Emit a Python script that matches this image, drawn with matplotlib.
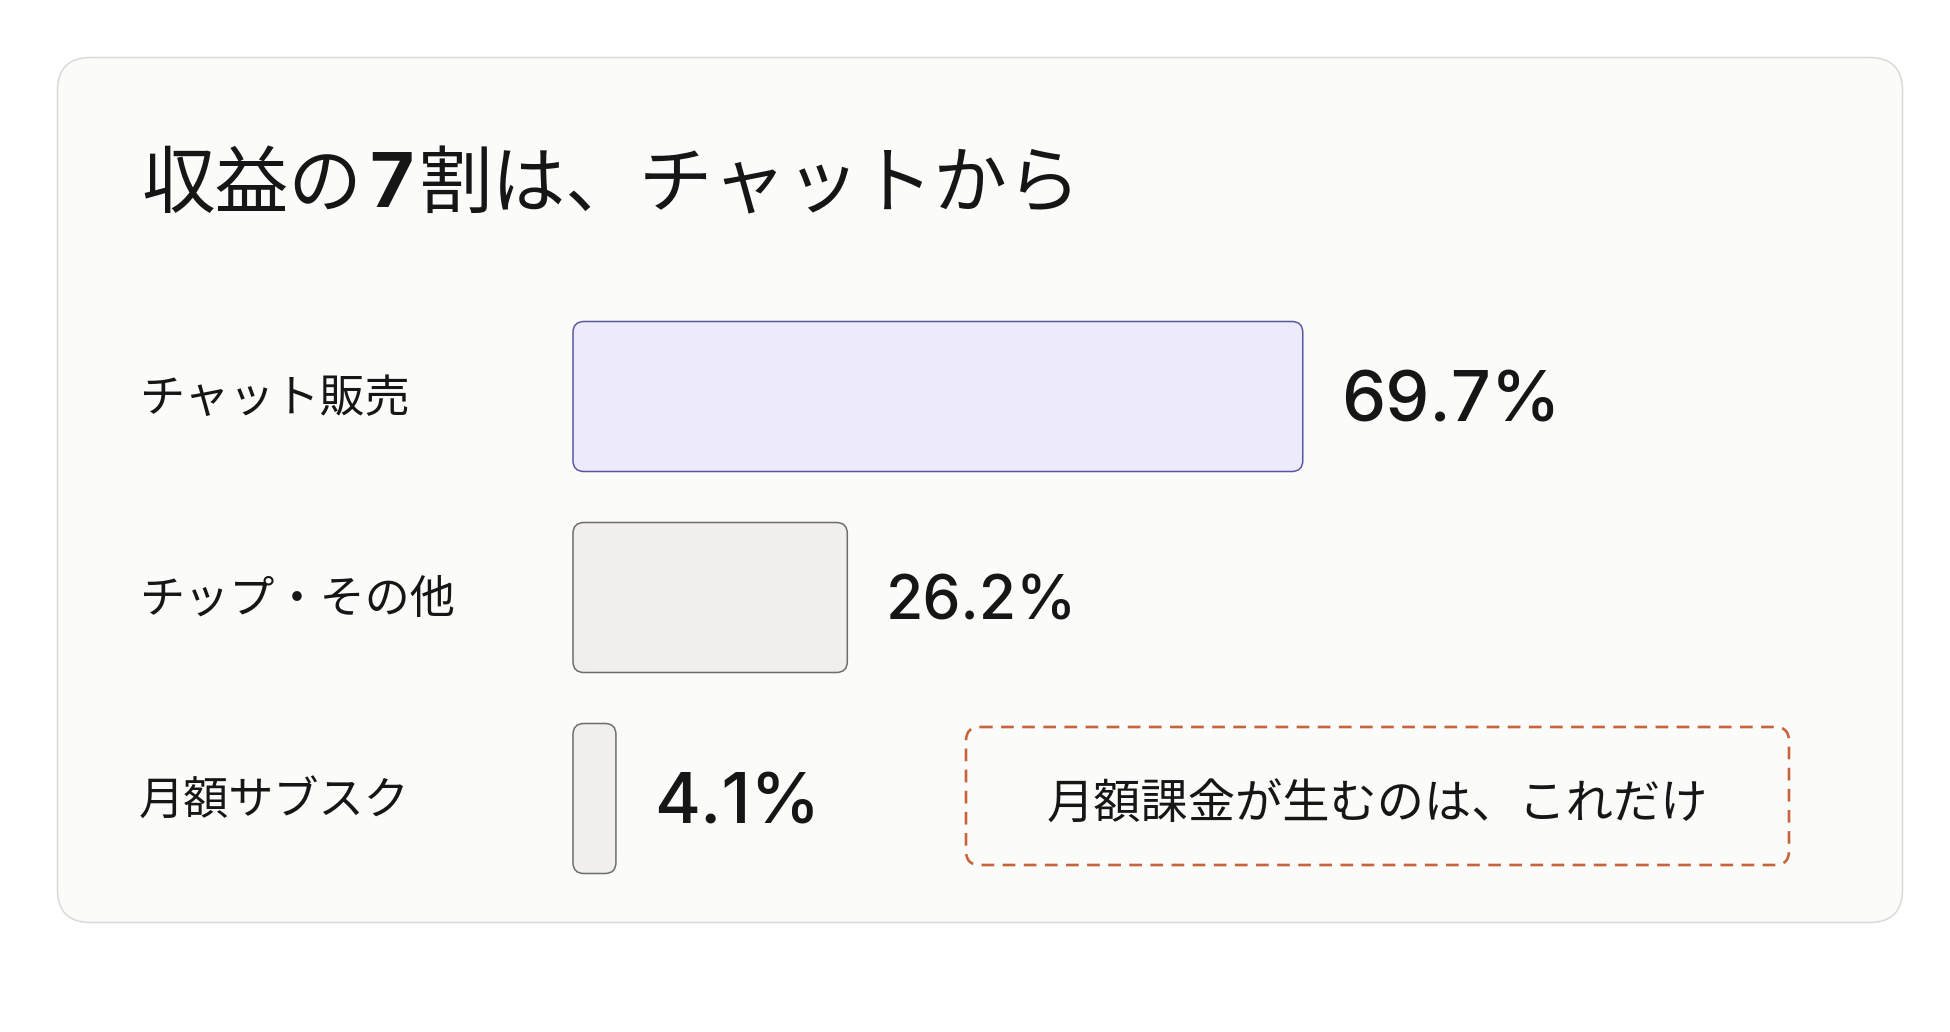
import matplotlib
matplotlib.use("Agg")
import matplotlib.pyplot as plt
from matplotlib.patches import FancyBboxPatch
from matplotlib.transforms import blended_transform_factory, offset_copy

# ---------------- data ----------------
categories = ["チャット販売", "チップ・その他", "月額サブスク"]
shares = [69.7, 26.2, 4.1]
value_labels = ["69.7%", "26.2%", "4.1%"]
title_parts = ["収益の", "7", "割は、チャットから"]
note_text = "月額課金が生むのは、これだけ"

# ---------------- style ----------------
JP = ["Noto Sans CJK JP", "DejaVu Sans"]
NUM = ["Inter", "Noto Sans CJK JP", "DejaVu Sans"]
plt.rcParams["font.family"] = JP
INK = "#161616"
bar_fills = ["#edebfb", "#f1efeb", "#f1efeb"]
bar_edges = ["#5b56a3", "#6f6d6a", "#6f6d6a"]
value_sizes = [50.5, 43.5, 50.5]

W, H, DPI = 1950, 1032, 100
fig = plt.figure(figsize=(W / DPI, H / DPI), dpi=DPI)
fig.patch.set_facecolor("white")

# background axes in pixel units (y downwards)
bg = fig.add_axes([0, 0, 1, 1])
bg.set_xlim(0, W)
bg.set_ylim(H, 0)
bg.axis("off")

card = FancyBboxPatch((57.5, 57.5), 1845, 865,
                      boxstyle="round,pad=0,rounding_size=33",
                      facecolor="#fbfbf9", edgecolor="#d9d9d6", linewidth=1.1)
bg.add_patch(card)

# title with bold "7"
renderer = fig.canvas.get_renderer()
x = 141
gaps = [7, 6, 0]
for part, gap in zip(title_parts, gaps):
    bold = part.isdigit()
    t = bg.text(x, 207, part, fontsize=53 if not bold else 55,
                fontweight="bold" if bold else "normal",
                family=NUM if bold else JP, color=INK,
                ha="left", va="baseline")
    ext = t.get_window_extent(renderer)
    x += ext.width + gap

# bar axes: 1% = 10.47 px, row pitch 201 px
left_px, width_px = 573, 1047
top_px, height_px = 296, 603
ax = fig.add_axes([left_px / W, 1 - (top_px + height_px) / H,
                   width_px / W, height_px / H])
ax.set_xlim(0, 100)
ax.set_ylim(len(categories) - 0.5, -0.5)
ax.axis("off")

px_x = width_px / 100.0
px_y = height_px / len(categories)
bar_h = 150 / px_y
r_px = 11
for i, (v, fc, ec) in enumerate(zip(shares, bar_fills, bar_edges)):
    p = FancyBboxPatch((0, i - bar_h / 2), v, bar_h,
                       boxstyle=f"round,pad=0,rounding_size={r_px / px_x}",
                       mutation_aspect=px_x / px_y,
                       facecolor=fc, edgecolor=ec, linewidth=1.1,
                       clip_on=False)
    ax.add_patch(p)

# value labels
for i, (v, lab, fs) in enumerate(zip(shares, value_labels, value_sizes)):
    em_px = fs * DPI / 72
    base_off_pt = -(0.727 * em_px / 2) * 72 / DPI
    tr = offset_copy(ax.transData, fig=fig, x=27.5, y=base_off_pt, units="points")
    ax.text(v, i, lab, transform=tr, fontsize=fs, family=NUM,
            fontweight="medium", color=INK, ha="left", va="baseline",
            clip_on=False)

# category labels (x in figure px, y in data rows)
lab_tr = offset_copy(blended_transform_factory(bg.transData, ax.transData),
                     fig=fig, x=0, y=-11, units="points")
for i, c in enumerate(categories):
    ax.text(139, i, c, transform=lab_tr, fontsize=32.5, family=JP,
            color=INK, ha="left", va="baseline", clip_on=False)

# annotation box
note_box = FancyBboxPatch((966, 727), 823, 138,
                          boxstyle="round,pad=0,rounding_size=14",
                          facecolor="none", edgecolor="#c8643c",
                          linewidth=1.9, linestyle=(0, (4.8, 3.2)))
bg.add_patch(note_box)
bg.text(1377, 819, note_text, fontsize=34, family=JP, color=INK,
        ha="center", va="baseline")

fig.savefig("out.png", dpi=DPI, facecolor=fig.get_facecolor())
